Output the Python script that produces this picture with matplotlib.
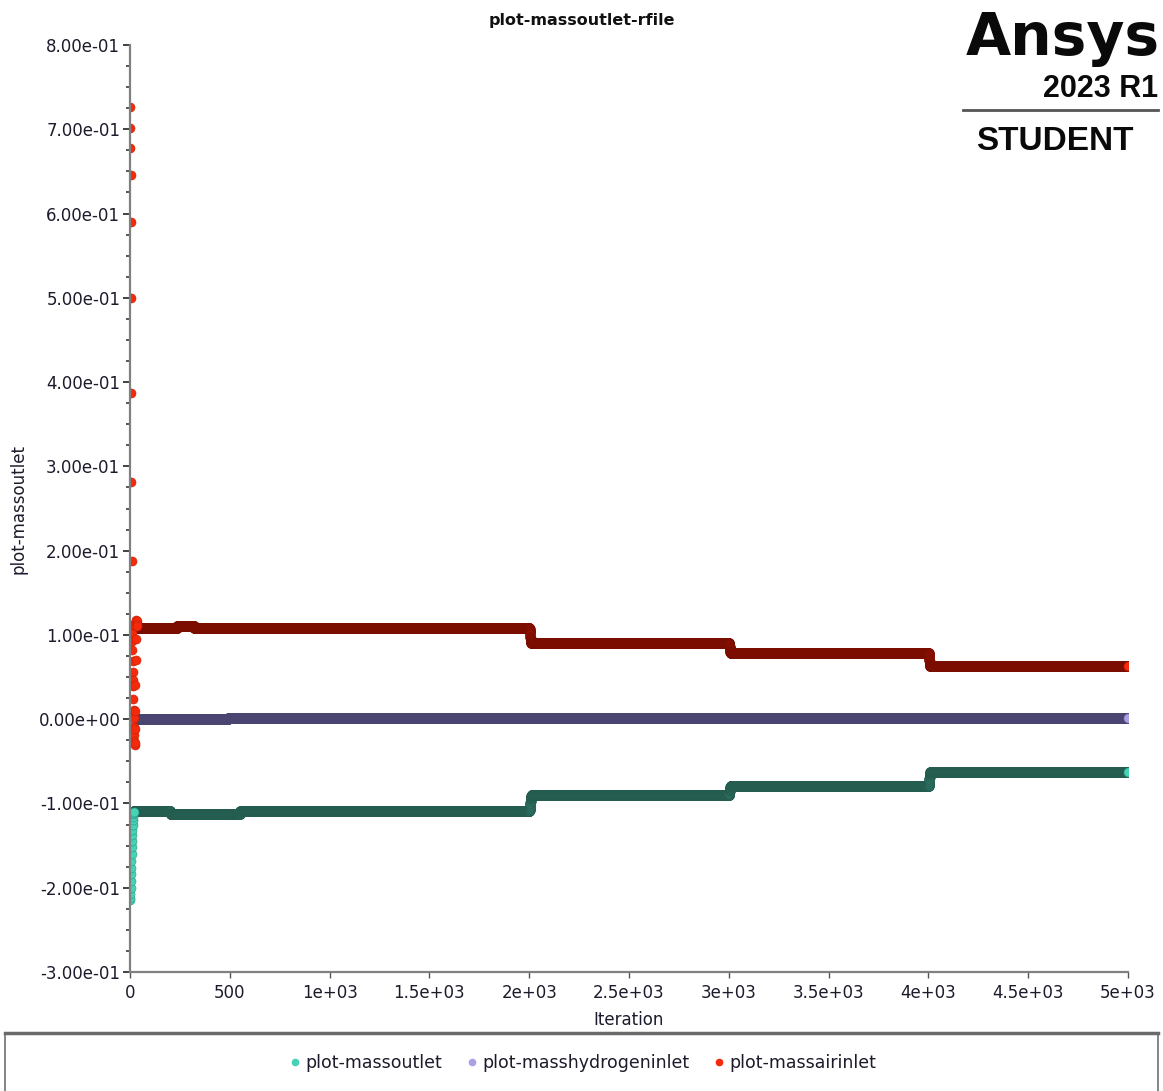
import numpy as np
import matplotlib.pyplot as plt
from matplotlib.lines import Line2D
from matplotlib.patches import Rectangle
from matplotlib.ticker import FixedLocator, MultipleLocator, FuncFormatter

# report values per iteration: start-up transient, then plateau levels with
# the short ramps at each change of operating point
outlet_head = [-0.215, -0.212, -0.207, -0.200, -0.192, -0.184, -0.176, -0.168,
               -0.160, -0.152, -0.145, -0.138, -0.131, -0.125, -0.120, -0.116,
               -0.113, -0.111, -0.110]
outlet_levels = [-0.1095, -0.1125, -0.1095, -0.0905, -0.0795, -0.0625]
outlet_ends = [200, 550, 2000, 3000, 4000, 5000]
outlet_ramps = [[], [-0.1105, -0.1115], [-0.1115, -0.1105],
                [-0.1090, -0.1080, -0.1065, -0.1045, -0.1020, -0.0995, -0.0970,
                 -0.0950, -0.0935, -0.0922, -0.0913, -0.0908],
                [-0.0900, -0.0890, -0.0875, -0.0858, -0.0840, -0.0825, -0.0812,
                 -0.0803, -0.0798],
                [-0.0790, -0.0780, -0.0762, -0.0738, -0.0712, -0.0688, -0.0668,
                 -0.0652, -0.0640, -0.0632, -0.0627]]

hydrogen_head = [0.0]
hydrogen_levels = [0.0, 0.0012]
hydrogen_ends = [490, 5000]
hydrogen_ramps = [[], [0.0004, 0.0008]]

air_head = [0.727, 0.701, 0.678, 0.646, 0.590, 0.500, 0.387, 0.281, 0.188,
            0.112, 0.102, 0.093, 0.082, 0.069, 0.056, 0.046, 0.039, 0.024,
            0.011, 0.001, -0.009, -0.019, -0.026, -0.031, -0.028, -0.012,
            0.010, 0.040, 0.070, 0.095, 0.110, 0.117, 0.118, 0.116, 0.113, 0.111]
air_levels = [0.108, 0.111, 0.108, 0.090, 0.0785, 0.063]
air_ends = [235, 320, 2000, 3000, 4000, 5000]
air_ramps = [[], [0.109, 0.110], [0.110, 0.109],
             [0.1075, 0.1065, 0.1050, 0.1030, 0.1005, 0.0980, 0.0955, 0.0935,
              0.0920, 0.0910, 0.0904],
             [0.0895, 0.0887, 0.0875, 0.0860, 0.0843, 0.0827, 0.0812, 0.0800,
              0.0792, 0.0787],
             [0.0780, 0.0770, 0.0752, 0.0728, 0.0702, 0.0678, 0.0658, 0.0644,
              0.0636, 0.0632]]

x_ticks = [0, 500, 1000, 1500, 2000, 2500, 3000, 3500, 4000, 4500, 5000]
x_tick_labels = ['0', '500', '1e+03', '1.5e+03', '2e+03', '2.5e+03', '3e+03',
                 '3.5e+03', '4e+03', '4.5e+03', '5e+03']

series = [
    ('plot-massoutlet', outlet_head, outlet_levels, outlet_ends, outlet_ramps,
     '#45d2b5', '#2a9a84', '#2f7566', '#245c50'),
    ('plot-masshydrogeninlet', hydrogen_head, hydrogen_levels, hydrogen_ends, hydrogen_ramps,
     '#aba0e3', '#7c72b8', '#5e5885', '#4a4470'),
    ('plot-massairinlet', air_head, air_levels, air_ends, air_ramps,
     '#f52a0c', '#c81c00', '#8e1200', '#7a0c00'),
]


def expand(head, levels, ends, ramps):
    vals, fresh = list(head), [True] * len(head)
    for lvl, end, ramp in zip(levels, ends, ramps):
        vals += ramp + [lvl] * (end + 1 - len(vals) - len(ramp))
    fresh += [False] * (len(vals) - len(fresh))
    fresh[-1] = True
    return np.arange(len(vals)), np.array(vals), np.array(fresh)


fig = plt.figure(figsize=(11.63, 10.91), dpi=100)
ax = fig.add_axes([130 / 1163, 1 - 972 / 1091, 998 / 1163, 927 / 1091])

handles = []
for name, head, levels, ends, ramps, face, edge, dface, dedge in series:
    it, val, fresh = expand(head, levels, ends, ramps)
    ax.plot(it[~fresh], val[~fresh], 'o', ms=7, mfc=dface, mec=dedge, mew=0.6)
    ax.plot(it[fresh], val[fresh], 'o', ms=6.5, mfc=face, mec=edge, mew=0.4)
    handles.append(Line2D([], [], ls='none', marker='o', ms=4.5, mfc=face, mec=face, label=name))

ax.set_xlim(0, 5000)
ax.set_ylim(-0.3, 0.8)
ax.xaxis.set_major_locator(FixedLocator(x_ticks))
ax.set_xticklabels(x_tick_labels)
ax.yaxis.set_major_locator(MultipleLocator(0.1))
ax.yaxis.set_minor_locator(MultipleLocator(0.025))
ax.yaxis.set_major_formatter(FuncFormatter(lambda v, p: '{:.2e}'.format(0.0 if abs(v) < 1e-12 else v)))

for side in ['top', 'right']:
    ax.spines[side].set_visible(False)
for side in ['left', 'bottom']:
    ax.spines[side].set_color('#808080')
    ax.spines[side].set_linewidth(1.6)
    ax.spines[side].set_zorder(5)

ax.tick_params(axis='y', which='major', length=5, width=1.2, color='#222222',
               labelsize=12, labelcolor='#1b1b2b', pad=2)
ax.tick_params(axis='y', which='minor', length=3, width=1.4, color='#555555')
ax.tick_params(axis='x', which='major', length=4, width=1.0, color='#555555',
               labelsize=12, labelcolor='#1b1b2b', pad=5)

ax.set_xlabel('Iteration', fontsize=12, color='#1b1b2b', labelpad=6)
ax.set_ylabel('plot-massoutlet', fontsize=12, color='#1b1b2b', labelpad=8)

fig.text(0.5, 1 - 20 / 1091, 'plot-massoutlet-rfile', ha='center', va='center',
         fontsize=11.5, fontweight='bold', color='#111111')

# branding block, top right
logo_font = 'Liberation Sans'
fig.text(1160 / 1163, 1 - 55 / 1091, 'Ansys', ha='right', va='baseline',
         fontsize=42, fontweight='bold', family='DejaVu Sans', color='#0a0a0a')
fig.text(1158 / 1163, 1 - 97 / 1091, '2023 R1', ha='right', va='baseline',
         fontsize=22, fontweight='bold', family=logo_font, color='#0a0a0a')
fig.add_artist(Line2D([963 / 1163, 1158 / 1163], [1 - 110 / 1091] * 2,
                      color='#555555', lw=2))
fig.text(1055 / 1163, 1 - 150 / 1091, 'STUDENT', ha='center', va='baseline',
         fontsize=24, fontweight='bold', family=logo_font, color='#0a0a0a')

# legend panel along the bottom edge
fig.add_artist(Rectangle((5 / 1163, -0.01), 1153 / 1163, (1091 - 1033) / 1091 + 0.01,
                         fill=False, edgecolor='#707070', lw=1.2))
fig.add_artist(Line2D([5 / 1163, 1158 / 1163], [1 - 1033 / 1091] * 2,
                      color='#6a6a6a', lw=2.5))
fig.legend(handles=handles, loc='center', bbox_to_anchor=(0.5, 1 - 1063 / 1091),
           ncol=3, frameon=False, fontsize=12.5, handletextpad=0.1,
           columnspacing=1.2, handlelength=1.0, labelcolor='#1b1b2b')

fig.savefig('out.png', dpi=100)
